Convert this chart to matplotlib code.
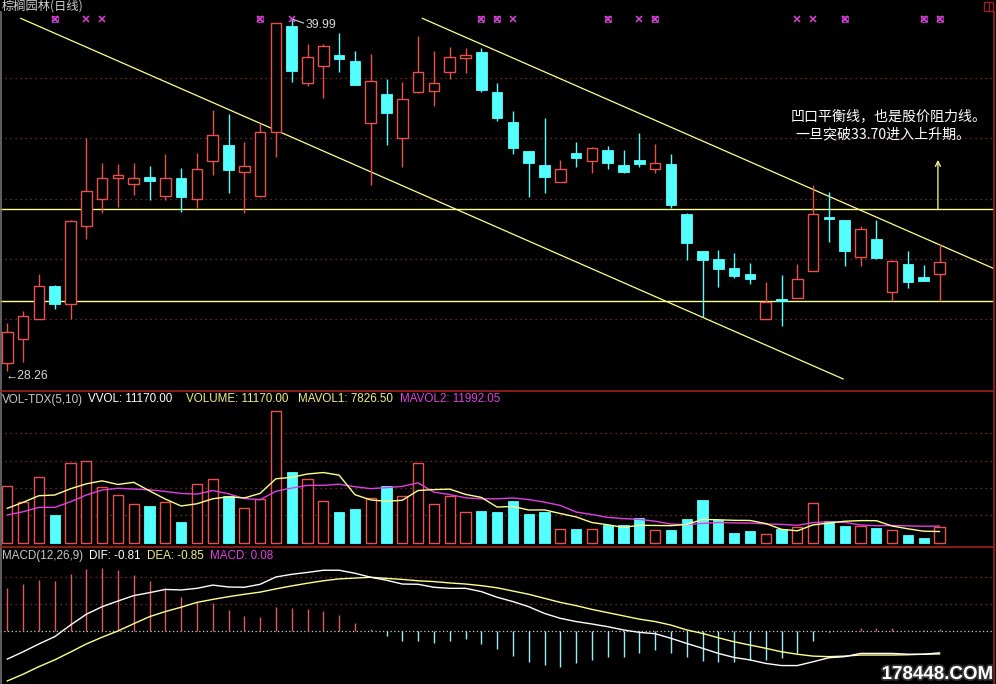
import matplotlib
matplotlib.use('Agg')
import matplotlib.pyplot as plt
from matplotlib.patches import Rectangle
import matplotlib.patheffects as pe
import numpy as np
import pandas as pd

# ---------------- data ----------------
opens = [28.53, 29.35, 29.99, 31.10, 30.49, 33.08, 33.98, 34.67, 34.47, 34.70,
         34.09, 34.67, 33.98, 35.25, 35.78, 34.89, 34.09, 36.20, 39.73, 37.82,
         38.41, 38.76, 38.56, 36.50, 37.46, 36.00, 37.53, 37.57, 38.19, 38.65,
         38.87, 37.53, 36.53, 35.58, 35.11, 34.56, 35.50, 35.25, 35.61, 35.11,
         35.28, 34.97, 35.15, 33.49, 32.26, 31.98, 31.68, 31.48, 29.99, 30.66,
         30.71, 31.60, 33.40, 33.29, 32.05, 32.65, 30.91, 31.83, 31.38, 31.48]
highs = [29.86, 30.27, 31.49, 31.13, 33.29, 36.00, 35.17, 35.15, 35.17, 35.08,
         35.48, 35.00, 35.50, 36.94, 36.80, 35.87, 36.50, 39.81, 39.99, 39.13,
         39.13, 39.48, 38.90, 38.80, 37.97, 37.86, 39.39, 38.90, 39.04, 39.00,
         38.99, 37.82, 36.90, 35.58, 36.66, 35.28, 35.87, 35.72, 35.75, 35.61,
         36.16, 35.81, 35.48, 33.53, 32.26, 32.29, 32.20, 31.87, 31.22, 31.46,
         31.83, 34.45, 34.23, 33.29, 33.09, 33.29, 31.96, 32.26, 31.79, 32.48]
lows = [28.26, 28.58, 29.99, 30.32, 29.99, 32.65, 33.51, 33.71, 34.12, 33.95,
        33.95, 33.56, 33.67, 34.78, 34.17, 33.51, 34.04, 35.39, 37.88, 37.73,
        37.33, 38.21, 37.77, 34.45, 35.78, 35.06, 37.49, 37.08, 37.97, 38.18,
        37.55, 36.58, 35.48, 34.04, 34.17, 34.56, 35.06, 34.86, 34.97, 34.86,
        35.04, 34.86, 33.67, 31.96, 30.08, 31.07, 31.37, 31.16, 29.99, 29.77,
        30.71, 31.60, 32.57, 31.77, 31.77, 31.98, 30.60, 31.02, 31.26, 30.60]
closes = [29.56, 30.09, 31.09, 30.51, 33.25, 34.26, 34.67, 34.78, 34.67, 34.59,
          34.67, 34.06, 34.97, 36.11, 34.95, 35.08, 36.20, 39.81, 38.24, 38.71,
          39.06, 38.62, 37.77, 37.90, 36.85, 37.29, 38.19, 37.82, 38.69, 38.76,
          37.60, 36.68, 35.69, 35.17, 34.72, 34.97, 35.33, 35.67, 35.19, 34.89,
          35.15, 35.17, 33.78, 32.53, 31.96, 31.66, 31.43, 31.33, 30.57, 30.60,
          31.32, 33.49, 33.32, 32.26, 32.98, 32.03, 31.93, 31.24, 31.26, 31.88]
volumes = [41400, 29500, 47700, 20200, 58000, 59400, 40400, 34600, 28000, 26800,
           29500, 15100, 42600, 46300, 34100, 25100, 31900, 95900, 51600, 46300,
           30400, 22400, 24600, 32400, 41400, 34100, 58000, 28000, 34100, 22200,
           23100, 22600, 30400, 21000, 22600, 10000, 10000, 10000, 12900, 12900,
           17800, 9300, 9300, 17300, 31200, 16600, 7300, 8800, 6100, 10000,
           11200, 28800, 15800, 12400, 12400, 11000, 9300, 5600, 3700, 11170]
# moving averages at the very start (earlier history not shown)
mavol1_head = [25100, 29500, 34300, 34800]
mavol2_head = [20200, 22600, 25800, 25800, 29900, 34800, 38500, 39700, 39200]

dif = [-1.04, -0.77, -0.48, -0.21, 0.22, 0.62, 0.90, 1.11, 1.31, 1.42,
       1.54, 1.52, 1.58, 1.70, 1.63, 1.62, 1.73, 2.00, 2.10, 2.17,
       2.25, 2.25, 2.14, 1.99, 1.88, 1.74, 1.73, 1.62, 1.58, 1.58,
       1.46, 1.25, 1.09, 0.90, 0.65, 0.47, 0.35, 0.26, 0.16, 0.04,
       -0.05, -0.10, -0.27, -0.46, -0.64, -0.83, -0.98, -1.07, -1.20, -1.28,
       -1.28, -1.14, -0.99, -0.95, -0.83, -0.83, -0.83, -0.86, -0.86, -0.81]
dea = [-1.85, -1.60, -1.32, -1.07, -0.78, -0.48, -0.23, 0.00, 0.27, 0.53,
       0.72, 0.88, 1.06, 1.17, 1.27, 1.36, 1.44, 1.56, 1.67, 1.77,
       1.86, 1.93, 1.96, 1.99, 1.95, 1.91, 1.86, 1.83, 1.78, 1.74,
       1.68, 1.60, 1.48, 1.36, 1.21, 1.06, 0.94, 0.80, 0.68, 0.56,
       0.44, 0.35, 0.22, 0.04, -0.09, -0.25, -0.40, -0.52, -0.64, -0.77,
       -0.86, -0.93, -0.95, -0.93, -0.89, -0.89, -0.89, -0.88, -0.86, -0.85]
macd_hist = [1.60, 1.73, 1.89, 1.85, 2.11, 2.30, 2.32, 2.26, 2.07, 1.85,
             1.58, 1.25, 1.06, 1.02, 0.78, 0.56, 0.51, 0.88, 0.84, 0.81,
             0.74, 0.59, 0.28, 0.06, -0.17, -0.37, -0.37, -0.43, -0.37, -0.31,
             -0.48, -0.68, -0.93, -1.14, -1.26, -1.32, -1.20, -1.07, -0.98, -0.95,
             -0.83, -0.70, -0.83, -0.98, -1.10, -1.16, -1.14, -1.07, -1.07, -1.01,
             -0.83, -0.36, -0.05, 0.01, 0.10, 0.10, 0.10, 0.03, 0.02, 0.08]

signal_big = [3, 16, 30, 31, 38, 41, 53, 58, 59]
signal_small = [5, 6, 18, 32, 40, 50, 51]
resist_level = 33.64
support_level = 30.60
trend_lower = ([0.85, 52.9], [39.98, 28.01])
trend_upper = ([26.27, 62.5], [39.98, 31.66])
price_grid = [30, 32, 34, 36, 38]
vol_grid = [20000, 40000, 60000, 80000]
macd_grid = [1, 2]

# ---------------- style ----------------
RED = '#e8504c'
CYAN = '#54ffff'
YEL = '#ffff8c'
MAG = '#e040e0'
GRID = '#8a3a30'
BORDER = '#a02020'
CJK = ['Noto Sans CJK SC', 'DejaVu Sans']
LAT = ['Liberation Sans', 'DejaVu Sans']

W, H = 996, 684
fig = plt.figure(figsize=(W / 100, H / 100), dpi=100, facecolor='black')

X0, DX = 7.3, 15.8
XL = (-X0 / DX, (994 - X0) / DX)


def px_axes(y0, y1, x0=0, x1=994):
    ax = fig.add_axes([x0 / W, 1 - y1 / H, (x1 - x0) / W, (y1 - y0) / H])
    ax.set_facecolor('black')
    ax.set_axis_off()
    ax.set_xlim(*XL)
    return ax


n = len(closes)
idx = np.arange(n)
up = [c >= o for o, c in zip(opens, closes)]

# ---------------- price panel ----------------
axp = px_axes(0, 391)
axp.set_ylim(30 + (319 - 391) / 30.125, 30 + 319 / 30.125)
for g in price_grid:
    axp.axhline(g, color=GRID, lw=0.9, ls=(0, (1, 3)), zorder=1)

bw = 0.66
for i in idx:
    o, h, l, c = opens[i], highs[i], lows[i], closes[i]
    top, bot = max(o, c), min(o, c)
    if up[i]:
        axp.vlines(i, top, h, color=RED, lw=1.0, zorder=3)
        axp.vlines(i, l, bot, color=RED, lw=1.0, zorder=3)
        axp.add_patch(Rectangle((i - bw / 2, bot), bw, max(top - bot, 0.03),
                                facecolor='black', edgecolor=RED, lw=1.0, zorder=4))
    else:
        axp.vlines(i, l, h, color=CYAN, lw=1.0, zorder=3)
        axp.add_patch(Rectangle((i - bw / 2, bot), bw, max(top - bot, 0.05),
                                facecolor=CYAN, edgecolor=CYAN, lw=0.6, zorder=4))

axp.axhline(resist_level, color=YEL, lw=1.0, zorder=2)
axp.axhline(support_level, color=YEL, lw=1.0, zorder=2)
axp.plot(*trend_lower, color=YEL, lw=0.9, zorder=2)
axp.plot(*trend_upper, color=YEL, lw=0.9, zorder=2)
axp.annotate('', xy=(58.9, 35.28), xytext=(58.9, resist_level),
             arrowprops=dict(arrowstyle='->', color=YEL, lw=0.9,
                             shrinkA=0, shrinkB=0, mutation_scale=9))
axp.plot(signal_big, [39.975] * len(signal_big), ls='none', marker='s',
         mfc='none', mec='#a030a0', ms=4.5, mew=0.8, zorder=5)
axp.plot(signal_big, [39.975] * len(signal_big), ls='none', marker='x',
         color=MAG, ms=4, mew=1.2, zorder=5)
axp.plot(signal_small, [39.975] * len(signal_small), ls='none', marker='x',
         color=MAG, ms=4, mew=1.1, zorder=5)

# ---------------- volume panel ----------------
axv = px_axes(391, 547)
axv.set_ylim((542.7 - 547) * 730, (542.7 - 391) * 730)
for g in vol_grid:
    axv.axhline(g, color=GRID, lw=0.9, ls=(0, (1, 3)), zorder=1)
for i in idx:
    if up[i]:
        axv.add_patch(Rectangle((i - 0.32, 0), 0.64, volumes[i], facecolor='black',
                                edgecolor=RED, lw=1.0, zorder=3))
    else:
        axv.add_patch(Rectangle((i - 0.32, 0), 0.64, volumes[i], facecolor=CYAN,
                                edgecolor=CYAN, lw=0.6, zorder=3))
vs = pd.Series(volumes, dtype=float)
ma5 = vs.rolling(5).mean().values
ma10 = vs.rolling(10).mean().values
ma5[:len(mavol1_head)] = mavol1_head
ma10[:len(mavol2_head)] = mavol2_head
axv.plot(idx, ma10, color=MAG, lw=1.0, zorder=4)
axv.plot(idx, ma5, color=YEL, lw=1.0, zorder=5)

# ---------------- MACD panel ----------------
axm = px_axes(547, 684)
axm.set_ylim((631 - 684) / 27, (631 - 547) / 27)
for g in macd_grid:
    axm.axhline(g, color=GRID, lw=0.9, ls=(0, (1, 3)), zorder=1)
axm.axhline(0, color='#d0d0d0', lw=0.9, ls=(0, (1, 2)), zorder=1)
hc = [('#e05a5a' if v >= 0 else '#9aeef0') for v in macd_hist]
axm.vlines(idx, 0, macd_hist, colors=hc, lw=1.0, zorder=2)
axm.plot(idx, dea, color=YEL, lw=1.0, zorder=3)
axm.plot(idx, dif, color='white', lw=1.0, zorder=4)

# ---------------- overlay: borders & texts ----------------
ov = fig.add_axes([0, 0, 1, 1], zorder=10)
ov.set_xlim(0, W)
ov.set_ylim(H, 0)
ov.set_axis_off()
ov.patch.set_alpha(0)
ov.plot([1, 1], [12, 684], color='#707070', lw=1.2)
ov.plot([993.5, 993.5], [12, 684], color=BORDER, lw=1.2)
ov.plot([0, 994], [391, 391], color=BORDER, lw=1.2)
ov.plot([0, 994], [547, 547], color=BORDER, lw=1.2)
ov.add_patch(Rectangle((984, 2), 9, 9, facecolor='none', edgecolor=BORDER, lw=1))
ov.plot([988.5, 988.5], [2, 11], color=BORDER, lw=1)

ov.text(2, 6.5, '棕榈园林(日线)', family=CJK, fontsize=8.8, color='#d0d0d0',
        va='center', ha='left')
ov.text(6, 376, '←28.26', family=LAT, fontsize=8.8, color='#d8d8d8',
        va='center', ha='left')
ov.plot([293.5, 303.5], [19.5, 23], color='#d8d8d8', lw=0.8)
ov.text(305.5, 25.5, '39.99', family=LAT, fontsize=8.8, color='#d8d8d8',
        va='center', ha='left')
ov.text(791, 116, '凹口平衡线，也是股价阻力线。', family=CJK, fontsize=10.1,
        color='white', va='center', ha='left')
ov.text(795, 134, '一旦突破33.70进入上升期。', family=CJK, fontsize=10.1,
        color='white', va='center', ha='left')

hy = 399.5
ov.text(2, hy, 'VOL-TDX(5,10)', family=LAT, fontsize=8.4, color='#c8c8c8', va='center')
ov.text(88, hy, 'VVOL: 11170.00', family=LAT, fontsize=8.4, color='white', va='center')
ov.text(186, hy, 'VOLUME: 11170.00', family=LAT, fontsize=8.4, color='#f0f080', va='center')
ov.text(298, hy, 'MAVOL1: 7826.50', family=LAT, fontsize=8.4, color='#f0f080', va='center')
ov.text(400, hy, 'MAVOL2: 11992.05', family=LAT, fontsize=8.4, color=MAG, va='center')

my = 556
ov.text(2, my, 'MACD(12,26,9)', family=LAT, fontsize=8.4, color='#c8c8c8', va='center')
ov.text(89, my, 'DIF: -0.81', family=LAT, fontsize=8.4, color='white', va='center')
ov.text(147, my, 'DEA: -0.85', family=LAT, fontsize=8.4, color='#f0f080', va='center')
ov.text(210.5, my, 'MACD: 0.08', family=LAT, fontsize=8.4, color=MAG, va='center')

ov.text(993, 674.5, '178448.COM', family=LAT, fontsize=13.5, fontweight='bold',
        color='white', va='center', ha='right',
        path_effects=[pe.withStroke(linewidth=2.5, foreground='#303030')])

fig.savefig('out.png', dpi=100, facecolor='black')
